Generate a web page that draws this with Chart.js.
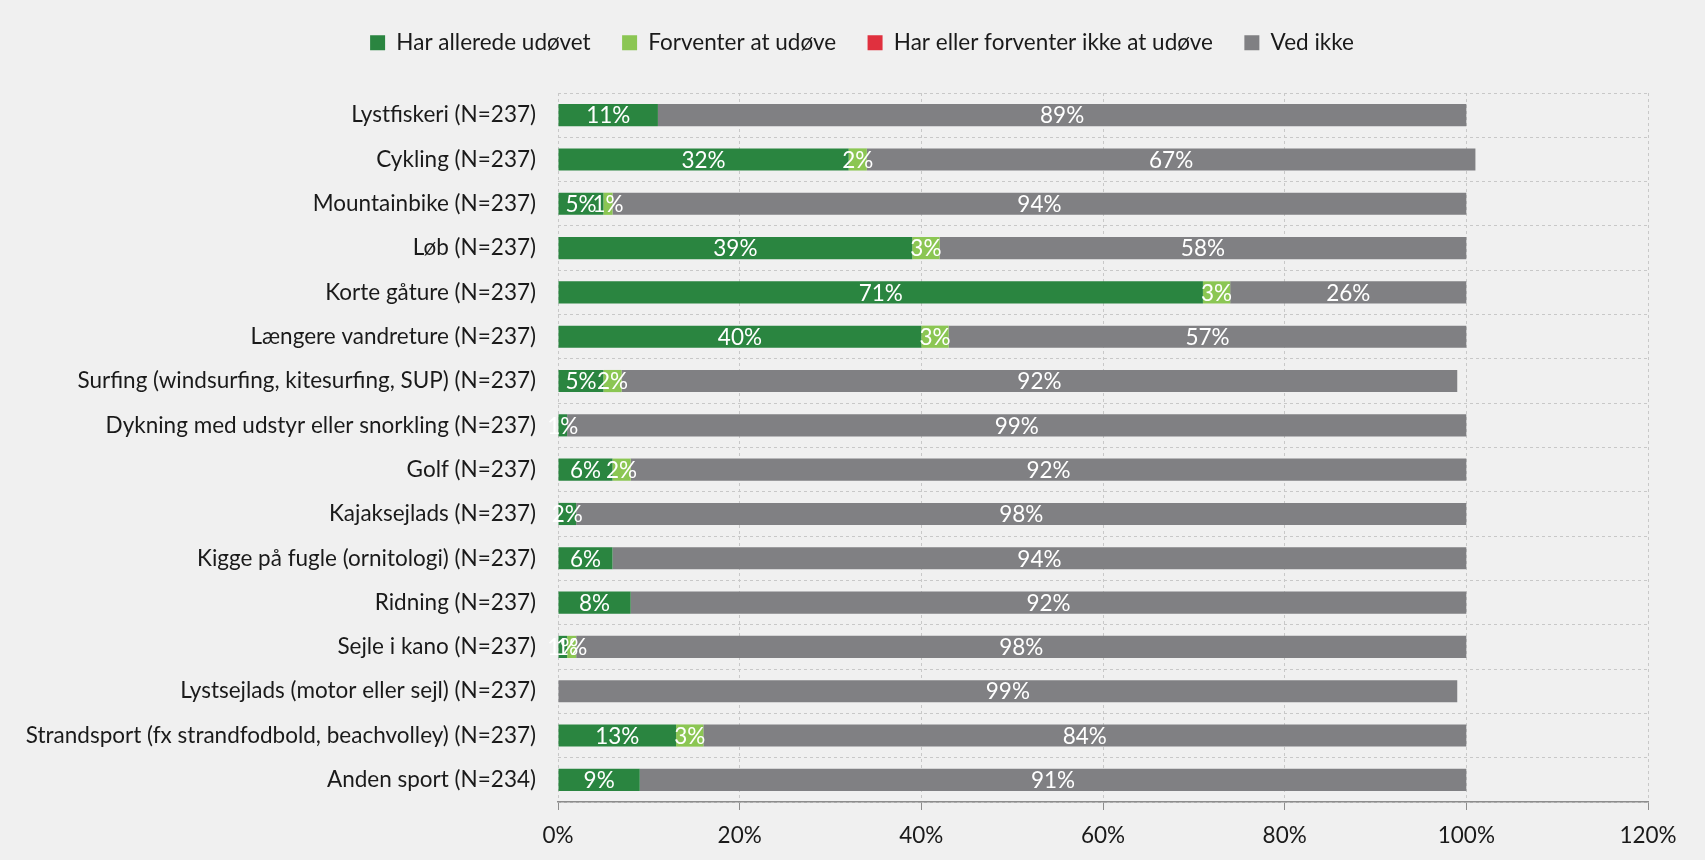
<!DOCTYPE html>
<html>
<head>
<meta charset="utf-8">
<script src="https://cdn.jsdelivr.net/npm/chart.js@4"></script>
<style>
  html, body { margin: 0; padding: 0; background: #f0f0f0; }
  #wrap { width: 1705px; height: 860px; }
</style>
</head>
<body>
<div id="wrap"><canvas id="myChart" width="1705" height="860"></canvas></div>
<script>
// categories, top to bottom
const activities = [
  "Lystfiskeri (N=237)",
  "Cykling (N=237)",
  "Mountainbike (N=237)",
  "Løb (N=237)",
  "Korte gåture (N=237)",
  "Længere vandreture (N=237)",
  "Surfing (windsurfing, kitesurfing, SUP) (N=237)",
  "Dykning med udstyr eller snorkling (N=237)",
  "Golf (N=237)",
  "Kajaksejlads (N=237)",
  "Kigge på fugle (ornitologi) (N=237)",
  "Ridning (N=237)",
  "Sejle i kano (N=237)",
  "Lystsejlads (motor eller sejl) (N=237)",
  "Strandsport (fx strandfodbold, beachvolley) (N=237)",
  "Anden sport (N=234)"
];

// percentages per series
const harAllerede   = [11, 32, 5, 39, 71, 40, 5, 1, 6, 2, 6, 8, 1, 0, 13, 9];
const forventer     = [0, 2, 1, 3, 3, 3, 2, 0, 2, 0, 0, 0, 1, 0, 3, 0];
const forventerIkke = [0, 0, 0, 0, 0, 0, 0, 0, 0, 0, 0, 0, 0, 0, 0, 0];
const vedIkke       = [89, 67, 94, 58, 26, 57, 92, 99, 92, 98, 94, 92, 98, 99, 84, 91];

const xTicks = [0, 20, 40, 60, 80, 100, 120];

const FONT = "Lato";
const FSIZE = 22.5;

// white value labels inside the segments
const barLabels = {
  id: "barLabels",
  afterDatasetsDraw(chart) {
    const ctx = chart.ctx;
    ctx.save();
    ctx.fillStyle = "#ffffff";
    ctx.font = FSIZE + "px " + FONT;
    ctx.textAlign = "center";
    ctx.textBaseline = "middle";
    chart.data.datasets.forEach((ds, i) => {
      const meta = chart.getDatasetMeta(i);
      meta.data.forEach((bar, j) => {
        const v = ds.data[j];
        if (!v) return;
        const x = (bar.x + bar.base) / 2;
        ctx.fillText(v + "%", x, bar.y + 1);
      });
    });
    ctx.restore();
  }
};

// fixed legend height, and legend nudged right like in the reference
const legendTweak = {
  id: "legendTweak",
  beforeInit(chart) {
    const lg = chart.legend;
    const fit = lg.fit;
    lg.fit = function () {
      fit.call(lg);
      this.height = 93;
    };
    const draw = lg.draw;
    lg.draw = function () {
      chart.ctx.save();
      chart.ctx.translate(38, 0);
      draw.call(lg);
      chart.ctx.restore();
    };
  }
};

new Chart(document.getElementById("myChart"), {
  type: "bar",
  data: {
    labels: activities,
    datasets: [
      { label: "Har allerede udøvet", data: harAllerede, backgroundColor: "#2a8540" },
      { label: "Forventer at udøve", data: forventer, backgroundColor: "#8bc653" },
      { label: "Har eller forventer ikke at udøve", data: forventerIkke, backgroundColor: "#e0303e" },
      { label: "Ved ikke", data: vedIkke, backgroundColor: "#808083" }
    ]
  },
  options: {
    indexAxis: "y",
    responsive: false,
    animation: false,
    layout: { padding: { top: 0, right: 57, bottom: 0, left: 0 } },
    datasets: { bar: { categoryPercentage: 1, barPercentage: 0.5 } },
    plugins: {
      legend: {
        position: "top",
        labels: {
          boxWidth: 15,
          boxHeight: 15,
          padding: 31.5,
          color: "#1a1a1a",
          font: { family: FONT, size: FSIZE }
        }
      },
      tooltip: { enabled: false }
    },
    scales: {
      x: {
        stacked: true,
        min: 0,
        max: 120,
        afterBuildTicks(scale) { scale.ticks = xTicks.map(v => ({ value: v })); },
        ticks: {
          callback: v => v + "%",
          color: "#1a1a1a",
          font: { family: FONT, size: FSIZE },
          padding: 12
        },
        grid: {
          color: "#c8c8c8",
          tickColor: "#8c8c8c",
          tickLength: 8,
          tickBorderDash: []
        },
        border: { color: "#8c8c8c", width: 1.5, dash: [3, 3] },
        afterFit(scale) { scale.height = 58; }
      },
      y: {
        stacked: true,
        ticks: {
          color: "#1a1a1a",
          font: { family: FONT, size: FSIZE },
          padding: 22
        },
        grid: {
          offset: true,
          color: "#c8c8c8",
          drawTicks: false
        },
        border: { display: false, dash: [3, 3] },
        afterFit(scale) { scale.width = 558; }
      }
    }
  },
  plugins: [barLabels, legendTweak]
});
</script>
</body>
</html>
